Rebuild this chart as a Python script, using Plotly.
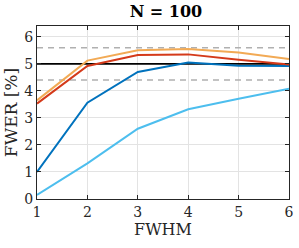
import plotly.graph_objects as go

fwhm = [1, 2, 3, 4, 5, 6]
orange = [3.65, 5.12, 5.50, 5.55, 5.42, 5.18]
red = [3.53, 4.92, 5.33, 5.35, 5.15, 4.98]
darkblue = [1.00, 3.56, 4.70, 5.05, 4.93, 4.92]
lightblue = [0.15, 1.32, 2.60, 3.32, 3.71, 4.08]
nominal = 5.0
ci_low, ci_high = 4.4, 5.6
xticks = [1, 2, 3, 4, 5, 6]
yticks = [0, 1, 2, 3, 4, 5, 6]

font = "DejaVu Serif"
fig = go.Figure()
for yv in (ci_high, ci_low):
    fig.add_trace(go.Scatter(x=[1, 6], y=[yv, yv], mode="lines",
                             line=dict(color="#b0b0b0", width=1.5, dash="6px,5px"),
                             showlegend=False))
fig.add_trace(go.Scatter(x=[1, 6], y=[nominal, nominal], mode="lines",
                         line=dict(color="black", width=1.6), showlegend=False))
for ys, c in [(lightblue, "#4DBEEE"), (darkblue, "#0072BD"), (red, "#D43A1A"), (orange, "#F2AA55")]:
    fig.add_trace(go.Scatter(x=fwhm, y=ys, mode="lines",
                             line=dict(color=c, width=2), showlegend=False))

axis_common = dict(showline=True, linecolor="#262626", linewidth=1, mirror="ticks",
                   ticks="inside", ticklen=4, tickcolor="#262626",
                   showgrid=True, gridcolor="#e3e3e3", gridwidth=1, zeroline=False,
                   ticklabeloverflow="allow",
                   tickfont=dict(family=font, size=14, color="#262626"))
fig.update_xaxes(range=[1, 6], tickvals=xticks,
                 title=dict(text="FWHM", font=dict(family=font, size=16, color="#262626"), standoff=4),
                 **axis_common)
fig.update_yaxes(range=[0, 6.4], tickvals=yticks,
                 title=dict(text="FWER [%]", font=dict(family=font, size=17, color="#262626"), standoff=2),
                 **axis_common)
fig.update_layout(
    width=299, height=248,
    margin=dict(l=37, r=5, t=26, b=49),
    paper_bgcolor="white", plot_bgcolor="white",
    title=dict(text="<b>N = 100</b>", x=0.555, xanchor="center", y=0.955, yanchor="middle",
               font=dict(family=font, size=16, color="black")),
)
fig.write_html("out.html", config={"displayModeBar": False},
               post_script="document.body.style.margin='0px';")
